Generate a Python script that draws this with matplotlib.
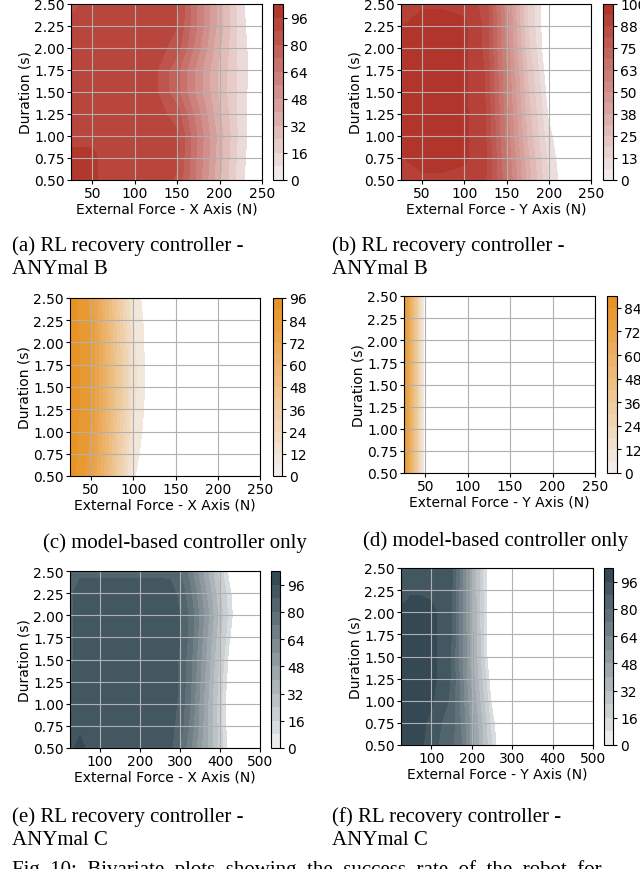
import numpy as np
import matplotlib
matplotlib.use('Agg')
import matplotlib.pyplot as plt
import seaborn as sns

# success rate (%) on a force x duration grid, rows are durations (bottom -> top)
durations = [0.5, 0.75, 1.0, 1.25, 1.5, 1.75, 2.0, 2.25, 2.5]
forces_b = [25, 50, 75, 100, 125, 150, 175, 200, 225, 250]
forces_c = [25, 50, 75, 100, 125, 150, 175, 200, 225, 250,
            275, 300, 325, 350, 375, 400, 425, 450, 475, 500]

# (a) RL recovery, ANYmal B, X axis
success_a = [
    [99, 97, 93, 92, 92, 87, 60, 33, 10, 0],
    [98, 97, 93, 92, 92, 89, 61, 35, 11, 0],
    [94, 95, 92, 92, 92, 90, 62, 36, 12, 0],
    [92, 92, 92, 92, 92, 84, 58, 33, 12, 0],
    [92, 92, 92, 92, 89, 74, 52, 30, 12, 0],
    [92, 92, 92, 92, 89, 74, 52, 30, 13, 0],
    [92, 92, 92, 92, 92, 84, 58, 33, 12, 0],
    [90, 92, 92, 92, 92, 88, 62, 36, 11, 0],
    [86, 90, 91, 91, 91, 90, 62, 36, 10, 0],
]

# (b) RL recovery, ANYmal B, Y axis
success_b = [
    [91, 91, 91, 91, 88, 64, 35, 12, 0, 0],
    [93, 99, 99, 95, 89, 62, 33, 10, 0, 0],
    [93, 99, 99, 95, 88, 60, 30, 8, 0, 0],
    [93, 99, 99, 95, 88, 59, 28, 6, 0, 0],
    [93, 99, 99, 95, 87, 57, 26, 4, 0, 0],
    [93, 99, 99, 95, 87, 56, 24, 2, 0, 0],
    [93, 99, 99, 95, 86, 54, 21, 0, 0, 0],
    [93, 99, 99, 95, 86, 53, 19, 0, 0, 0],
    [92, 92, 92, 92, 85, 52, 18, 0, 0, 0],
]

# (c) model-based only, X axis
success_c = [
    [93, 80, 45, 7, 0, 0, 0, 0, 0, 0],
    [94, 82, 47, 9, 0, 0, 0, 0, 0, 0],
    [94, 83, 48, 11, 0, 0, 0, 0, 0, 0],
    [95, 84, 50, 13, 0, 0, 0, 0, 0, 0],
    [95, 84, 50, 14, 0, 0, 0, 0, 0, 0],
    [95, 84, 50, 14, 0, 0, 0, 0, 0, 0],
    [95, 84, 49, 13, 0, 0, 0, 0, 0, 0],
    [94, 83, 48, 12, 0, 0, 0, 0, 0, 0],
    [94, 82, 47, 10, 0, 0, 0, 0, 0, 0],
]

# (d) model-based only, Y axis
success_d = [
    [88, 0, 0, 0, 0, 0, 0, 0, 0, 0],
    [88, 0, 0, 0, 0, 0, 0, 0, 0, 0],
    [88, 0, 0, 0, 0, 0, 0, 0, 0, 0],
    [88, 0, 0, 0, 0, 0, 0, 0, 0, 0],
    [88, 0, 0, 0, 0, 0, 0, 0, 0, 0],
    [88, 0, 0, 0, 0, 0, 0, 0, 0, 0],
    [88, 0, 0, 0, 0, 0, 0, 0, 0, 0],
    [88, 0, 0, 0, 0, 0, 0, 0, 0, 0],
    [88, 0, 0, 0, 0, 0, 0, 0, 0, 0],
]

# (e) RL recovery, ANYmal C, X axis
success_e = [
    [93, 100, 92, 92, 92, 92, 92, 92, 92, 91, 90, 80, 66, 50, 36, 20, 4, 0, 0, 0],
    [93, 93, 92, 92, 92, 92, 92, 92, 92, 92, 91, 84, 70, 53, 36, 19, 3, 0, 0, 0],
    [88, 92, 92, 92, 92, 92, 92, 92, 92, 92, 92, 86, 72, 54, 36, 18, 2, 0, 0, 0],
    [87, 92, 92, 92, 92, 92, 92, 92, 92, 92, 92, 87, 74, 56, 38, 20, 4, 0, 0, 0],
    [86, 92, 92, 92, 92, 92, 92, 92, 92, 92, 92, 87, 75, 58, 40, 22, 6, 0, 0, 0],
    [86, 92, 92, 92, 92, 92, 92, 92, 92, 92, 92, 88, 77, 60, 43, 25, 9, 0, 0, 0],
    [86, 92, 92, 92, 92, 92, 92, 92, 92, 92, 92, 88, 78, 62, 46, 28, 12, 0, 0, 0],
    [86, 92, 92, 92, 92, 92, 92, 92, 92, 92, 91, 86, 74, 58, 42, 25, 10, 0, 0, 0],
    [84, 86, 86, 86, 86, 86, 86, 86, 86, 86, 86, 80, 68, 52, 36, 20, 6, 0, 0, 0],
]

# (f) RL recovery, ANYmal C, Y axis
success_f = [
    [97, 99, 97, 92, 86, 82, 72, 52, 34, 16, 0, 0, 0, 0, 0, 0, 0, 0, 0, 0],
    [97, 99, 98, 94, 88, 84, 70, 52, 32, 12, 0, 0, 0, 0, 0, 0, 0, 0, 0, 0],
    [97, 99, 99, 97, 92, 86, 68, 48, 28, 8, 0, 0, 0, 0, 0, 0, 0, 0, 0, 0],
    [97, 99, 99, 98, 94, 87, 67, 45, 24, 4, 0, 0, 0, 0, 0, 0, 0, 0, 0, 0],
    [97, 99, 99, 98, 94, 87, 66, 43, 20, 0, 0, 0, 0, 0, 0, 0, 0, 0, 0, 0],
    [97, 99, 99, 98, 94, 88, 66, 43, 20, 0, 0, 0, 0, 0, 0, 0, 0, 0, 0, 0],
    [97, 99, 99, 98, 94, 88, 66, 42, 19, 0, 0, 0, 0, 0, 0, 0, 0, 0, 0, 0],
    [93, 95, 95, 94, 92, 89, 66, 42, 18, 0, 0, 0, 0, 0, 0, 0, 0, 0, 0, 0],
    [89, 91, 92, 92, 91, 90, 66, 42, 18, 0, 0, 0, 0, 0, 0, 0, 0, 0, 0, 0],
]

levels_8 = np.arange(0, 105, 8)
ticks_16 = [0, 16, 32, 48, 64, 80, 96]
levels_b = np.linspace(0, 100, 17)
ticks_b = levels_b[::2]
ticklabels_b = ['0', '13', '25', '38', '50', '63', '75', '88', '100']

red = '#b03026'
orange = '#e8901f'
slate = '#2d434e'

W, H = 640.0, 870.0
fig = plt.figure(figsize=(W / 100, H / 100), dpi=100)


def box(left, right, top, bottom):
    # pixel box (from top-left) -> figure fraction
    return [left / W, 1 - bottom / H, (right - left) / W, (bottom - top) / H]


def draw_panel(ax_px, cb_px, forces, z, levels, ticks, ticklabels, color, xticks, xlabel):
    ax = fig.add_axes(box(*ax_px))
    z = np.array(z, dtype=float)
    cmap = sns.light_palette(color, as_cmap=True)
    cs = ax.contourf(forces, durations, z, levels=levels, cmap=cmap)
    # lowest band is left blank in the plot (colorbar still shows it)
    ax.contourf(forces, durations, z, levels=levels[:2], colors='white')
    ax.grid(True, color='#b0b0b0', linewidth=0.8)
    ax.set_xticks(xticks)
    ax.set_yticks(durations)
    ax.tick_params(labelsize=10, pad=1.5, length=3)
    ax.set_xlabel('External Force - ' + xlabel, fontsize=10, labelpad=1)
    ax.set_ylabel('Duration (s)', fontsize=10, labelpad=1)
    cax = fig.add_axes(box(*cb_px))
    cb = fig.colorbar(cs, cax=cax, ticks=ticks)
    cb.ax.tick_params(labelsize=10, pad=2, length=3)
    if ticklabels is not None:
        cb.ax.set_yticklabels(ticklabels)
    return ax


draw_panel((71, 262, 5, 181), (273, 283, 5, 181), forces_b, success_a,
           levels_8, ticks_16, None, red, [50, 100, 150, 200, 250], 'X Axis (N)')
draw_panel((401, 591, 5, 181), (603, 613, 5, 181), forces_b, success_b,
           levels_b, ticks_b, ticklabels_b, red, [50, 100, 150, 200, 250], 'Y Axis (N)')
draw_panel((70, 260, 299, 477), (273, 282, 299, 477), forces_b, success_c,
           np.arange(0, 97, 6), np.arange(0, 97, 12), None, orange,
           [50, 100, 150, 200, 250], 'X Axis (N)')
draw_panel((404, 595, 297, 474), (607, 617, 297, 474), forces_b, success_d,
           np.arange(0, 91, 6), np.arange(0, 85, 12), None, orange,
           [50, 100, 150, 200, 250], 'Y Axis (N)')
draw_panel((70, 260, 572, 749), (271, 280, 572, 749), forces_c, success_e,
           levels_8, ticks_16, None, slate, [100, 200, 300, 400, 500], 'X Axis (N)')
draw_panel((401, 593, 569, 746), (604, 613, 569, 746), forces_c, success_f,
           levels_8, ticks_16, None, slate, [100, 200, 300, 400, 500], 'Y Axis (N)')

# sub-captions
cap = dict(family='Liberation Serif', fontsize=15, va='baseline', ha='left')


def caption(x, y, s):
    fig.text(x / W, 1 - y / H, s, **cap)


caption(12, 251, '(a) RL recovery controller -')
caption(12, 274, 'ANYmal B')
caption(332, 251, '(b) RL recovery controller -')
caption(332, 274, 'ANYmal B')
caption(43, 548, '(c) model-based controller only')
caption(363, 546, '(d) model-based controller only')
caption(12, 822, '(e) RL recovery controller -')
caption(12, 845, 'ANYmal C')
caption(332, 822, '(f) RL recovery controller -')
caption(332, 845, 'ANYmal C')
caption(12, 875, 'Fig. 10:  Bivariate  plots  showing  the  success  rate  of  the  robot  for')

fig.savefig('out.png', dpi=100)
